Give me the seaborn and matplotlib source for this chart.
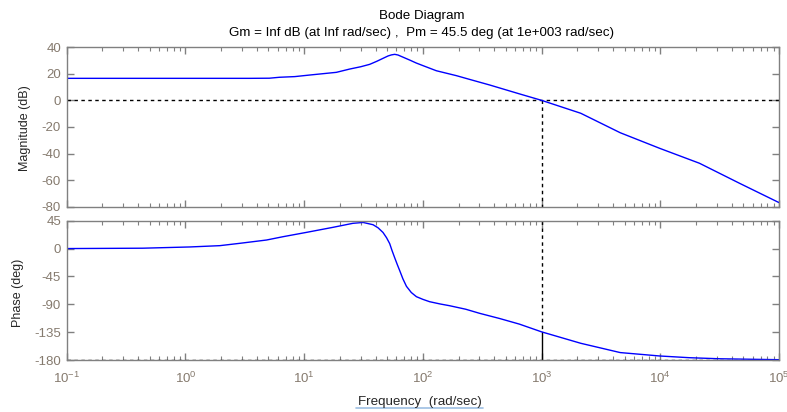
import numpy as np
import pandas as pd
import matplotlib
matplotlib.use("Agg")
import matplotlib.pyplot as plt
import seaborn as sns
from matplotlib.ticker import FixedLocator, FixedFormatter, LogLocator, NullFormatter
from matplotlib.lines import Line2D

# ---------------- data ----------------
mag_freq = [0.1, 1.0, 3.5, 5.1, 6.2, 8.35, 11.2, 18.7, 24.3, 30.0, 35.7, 41.0, 46.2,
            51.0, 54.5, 58.0, 61.8, 68.0, 77.6, 88.0, 100.5, 130, 192, 248, 366, 654,
            1000, 2140, 4600, 9890, 21400, 46500, 100000]
mag_db = [16.5, 16.5, 16.5, 16.6, 17.3, 17.8, 19.0, 21.0, 23.5, 25.2, 27.0, 29.3, 31.5,
          33.3, 34.1, 34.5, 34.0, 32.4, 30.2, 28.0, 26.0, 22.2, 18.5, 15.7, 11.5, 4.8,
          0.0, -9.7, -24.3, -36.0, -47.2, -62.2, -76.7]

phase_freq = [0.1, 0.438, 1.09, 1.95, 2.88, 4.82, 6.66, 10.5, 17.5, 25.8, 31.4, 38.1,
              42.0, 46.2, 49.5, 52.6, 55.0, 58, 61.0, 64, 68.0, 72.8, 80.0, 88.3,
              100.0, 114, 140.0, 168, 230.0, 301, 444, 650.0, 1000, 2140, 4600, 9890,
              17650, 31560, 100000]
phase_deg = [0.0, 0.6, 2.6, 4.7, 8.5, 13.8, 19.2, 26.2, 34.3, 40.8, 42.2, 38.5,
             33.5, 26.0, 17.5, 8.0, -3.0, -15.0, -26.0, -36.0, -49.0, -61.0, -71.0,
             -77.7, -82.0, -85.8, -89.5, -92.3, -98.0, -104.6, -113.0, -122.0,
             -134.5, -153.0, -168.0, -173.5, -176.3, -178.0, -179.5]

mag_ticks = [-80, -60, -40, -20, 0, 20, 40]
phase_ticks = [-180, -135, -90, -45, 0, 45]
freq_decades = [1e-1, 1e0, 1e1, 1e2, 1e3, 1e4, 1e5]
freq_labels = [r"$10^{-1}$", r"$10^{0}$", r"$10^{1}$", r"$10^{2}$",
               r"$10^{3}$", r"$10^{4}$", r"$10^{5}$"]
title_lines = ["Bode Diagram",
               "Gm = Inf dB (at Inf rad/sec) ,  Pm = 45.5 deg (at 1e+003 rad/sec)"]
mag_label = "Magnitude (dB)"
phase_label = "Phase (deg)"
freq_label = "Frequency  (rad/sec)"
crossover_freq = 1000
phase_at_crossover = -134.5

# ---------------- style ----------------
sns.set_style("ticks")
plt.rcParams["font.family"] = ["Liberation Sans", "DejaVu Sans"]
plt.rcParams["mathtext.fontset"] = "custom"
plt.rcParams["mathtext.rm"] = "Liberation Sans"
plt.rcParams["mathtext.it"] = "Liberation Sans:italic"
plt.rcParams["mathtext.bf"] = "Liberation Sans:bold"

FS_TITLE = 9.6
FS_LABEL = 9.0
FS_TICK = 9.5
frame_col = "#808080"
tick_lbl_col = "#857a6e"
line_col = "#0000ff"

mag_df = pd.DataFrame({"freq": mag_freq, "mag": mag_db})
ph_df = pd.DataFrame({"freq": phase_freq, "phase": phase_deg})

fig = plt.figure(figsize=(7.87, 4.12), dpi=100)
ax1 = fig.add_axes([0.0847, 0.4976, 0.9051, 0.3883])
ax2 = fig.add_axes([0.0847, 0.1262, 0.9051, 0.3381])

for ax in (ax1, ax2):
    ax.set_xscale("log")
    ax.set_xlim(1e-1, 1e5)

sns.lineplot(data=mag_df, x="freq", y="mag", ax=ax1, color=line_col, lw=1.0)
sns.lineplot(data=ph_df, x="freq", y="phase", ax=ax2, color=line_col, lw=1.0)

ax1.set_ylim(-80, 40)
ax2.set_ylim(-180, 45)
ax1.yaxis.set_major_locator(FixedLocator(mag_ticks))
ax2.yaxis.set_major_locator(FixedLocator(phase_ticks))
ax1.set_yticklabels([str(t) for t in mag_ticks])
ax2.set_yticklabels([str(t) for t in phase_ticks])

for ax in (ax1, ax2):
    ax.xaxis.set_major_locator(FixedLocator(freq_decades))
    ax.xaxis.set_minor_locator(LogLocator(base=10, subs=np.arange(2, 10), numticks=20))
    ax.xaxis.set_minor_formatter(NullFormatter())
    for s in ax.spines.values():
        s.set_visible(True)
        s.set_color(frame_col)
        s.set_linewidth(1.0)
    ax.tick_params(which="both", direction="in", top=True, right=True,
                   color=frame_col, labelcolor=tick_lbl_col, labelsize=FS_TICK)
    ax.tick_params(which="major", length=5, width=1.0)
    ax.tick_params(which="minor", length=3, width=0.8)
    ax.tick_params(axis="y", pad=4)
    ax.set_xlabel("")
    ax.set_ylabel("")

ax1.xaxis.set_major_formatter(NullFormatter())
ax2.xaxis.set_major_formatter(FixedFormatter(freq_labels))
ax2.tick_params(axis="x", pad=8)

# reference lines
dash = (0, (2.5, 2.5))
ax1.axhline(0, color="black", lw=1.0, ls=dash, zorder=1)
ax1.plot([crossover_freq, crossover_freq], [0, -80], color="black", lw=1.0, ls=dash, zorder=1)
ax2.axhline(-180, color="black", lw=1.0, ls=dash, zorder=1)
ax2.plot([crossover_freq, crossover_freq], [45, phase_at_crossover], color="black",
         lw=1.0, ls=dash, zorder=1)
ax2.plot([crossover_freq, crossover_freq], [phase_at_crossover, -180], color="black",
         lw=1.0, zorder=1)

# texts
fig.text(0.5356, 0.961, title_lines[0], ha="center", va="center", fontsize=FS_TITLE, color="black")
fig.text(0.5356, 0.920, title_lines[1], ha="center", va="center", fontsize=FS_TITLE, color="black")
fig.text(0.032, 0.689, mag_label, rotation=90, ha="center", va="center", fontsize=FS_LABEL)
fig.text(0.0235, 0.289, phase_label, rotation=90, ha="center", va="center", fontsize=FS_LABEL)
fig.text(0.533, 0.025, freq_label, ha="center", va="center", fontsize=FS_TITLE)
fig.add_artist(Line2D([356 / 787, 483 / 787], [1 - 408.3 / 412, 1 - 408.3 / 412],
                      color="#9dbfe3", lw=1.2, transform=fig.transFigure))

fig.savefig("out.png", dpi=100)
